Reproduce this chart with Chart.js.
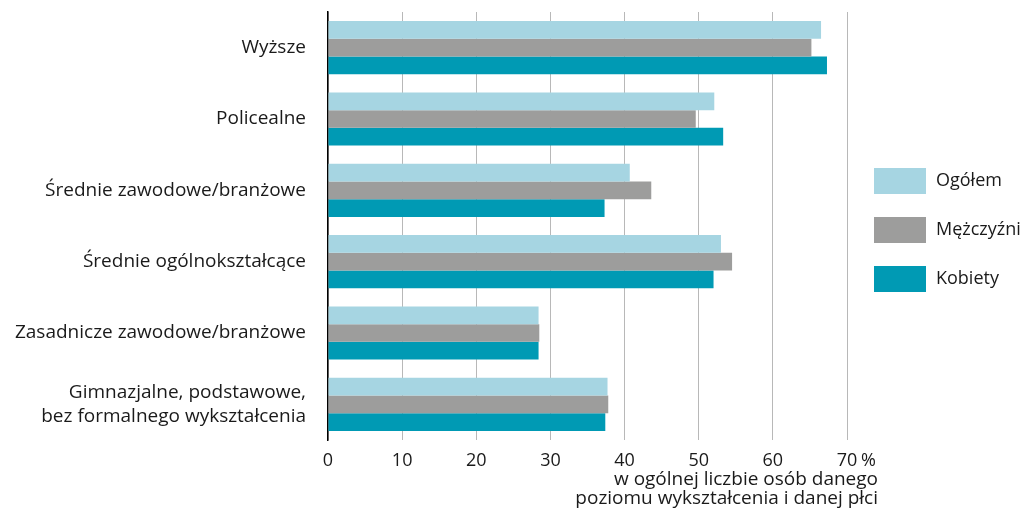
<!DOCTYPE html>
<html><head><meta charset="utf-8">
<script src="https://cdn.jsdelivr.net/npm/chart.js@4/dist/chart.umd.min.js"></script>
<style>html,body{margin:0;padding:0;background:#fff}#wrap{width:1024px;height:508px}</style>
</head><body><div id="wrap"><canvas id="c" width="1024" height="508"></canvas></div>
<script>
const categories = [
  "Wyższe",
  "Policealne",
  "Średnie zawodowe/branżowe",
  "Średnie ogólnokształcące",
  "Zasadnicze zawodowe/branżowe",
  ["Gimnazjalne, podstawowe,", "bez formalnego wykształcenia"]
];
const seriesNames = ["Ogółem", "Mężczyźni", "Kobiety"];
const ogolem    = [66.5, 52.1, 40.7, 53.0, 28.4, 37.7];
const mezczyzni = [65.2, 49.6, 43.6, 54.5, 28.5, 37.8];
const kobiety   = [67.3, 53.3, 37.3, 52.0, 28.4, 37.4];
const xTicks = [0, 10, 20, 30, 40, 50, 60, 70];
const axisTitle = ["w ogólnej liczbie osób danego", "poziomu wykształcenia i danej płci"];
const colors = ["#a6d5e2", "#9d9d9c", "#009ab4"];

const FONT = "'Open Sans', sans-serif";
const TXT = "#1a1a1a";

const extras = {
  id: "extras",
  afterDraw(chart) {
    const ctx = chart.ctx;
    const xs = chart.scales.x;
    ctx.save();
    ctx.fillStyle = TXT;
    ctx.font = "18px " + FONT;
    ctx.textAlign = "left";
    ctx.textBaseline = "middle";
    const last = xTicks[xTicks.length - 1];
    const lx = xs.getPixelForValue(last);
    ctx.fillText("%", lx + 14, 461);
    ctx.textAlign = "right";
    ctx.font = "19px " + FONT;
    ctx.fillText(axisTitle[0], 878, 480);
    ctx.fillText(axisTitle[1], 878, 499);
    ctx.font = "18px " + FONT;
    ctx.textAlign = "left";
    chart.data.datasets.forEach((ds, i) => {
      const y = 168 + i * 49;
      ctx.fillStyle = ds.backgroundColor;
      ctx.fillRect(874, y, 52, 26);
      ctx.fillStyle = TXT;
      ctx.fillText(ds.label, 936, y + 13);
    });
    ctx.restore();
  }
};

new Chart(document.getElementById("c"), {
  type: "bar",
  data: {
    labels: categories,
    datasets: [
      { label: seriesNames[0], data: ogolem, backgroundColor: colors[0] },
      { label: seriesNames[1], data: mezczyzni, backgroundColor: colors[1] },
      { label: seriesNames[2], data: kobiety, backgroundColor: colors[2] }
    ]
  },
  options: {
    indexAxis: "y",
    responsive: false,
    animation: false,
    devicePixelRatio: 1,
    layout: { padding: { top: 12, right: 177, bottom: 0, left: 0 } },
    datasets: { bar: { categoryPercentage: 0.745, barPercentage: 1.0, borderWidth: 0 } },
    plugins: { legend: { display: false }, tooltip: { enabled: false } },
    scales: {
      x: {
        min: 0, max: 70,
        afterBuildTicks(scale) { scale.ticks = xTicks.map(v => ({ value: v })); },
        afterFit(scale) { scale.height = 68; scale.paddingLeft = 0; scale.paddingRight = 0; },
        grid: { color: "#b8b8b8", lineWidth: 1, drawTicks: true, tickLength: 0, tickColor: "#b8b8b8" },
        border: { display: false },
        ticks: { color: TXT, font: { family: FONT, size: 18 }, padding: 10, maxRotation: 0, autoSkip: false }
      },
      y: {
        afterFit(scale) { scale.width = 328; scale.paddingTop = 0; scale.paddingBottom = 0; },
        grid: { display: false, drawTicks: false },
        border: { display: true, color: "#000", width: 1.5 },
        ticks: { color: TXT, font: { family: FONT, size: 19, lineHeight: 1.27 }, padding: 22, crossAlign: "near" }
      }
    }
  },
  plugins: [extras]
});
</script>
</body></html>
